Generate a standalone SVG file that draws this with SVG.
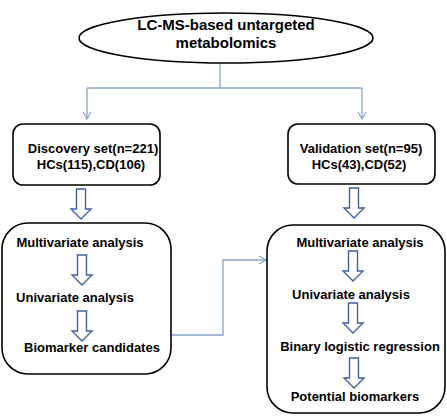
<svg xmlns="http://www.w3.org/2000/svg" xmlns:xlink="http://www.w3.org/1999/xlink" width="447" height="418" viewBox="0 0 447 418">
<style>
.box{fill:#fff;stroke:#000;stroke-width:1.6}
.t{font-family:"Liberation Sans",Arial,sans-serif;font-weight:bold;font-size:13px;fill:#000;text-anchor:middle}
.tt{font-size:15px}
.con{fill:none;stroke:#8aa5d2;stroke-width:1.3}
.ha{fill:#fff;stroke:#3f5f9f;stroke-width:1.4}
</style>
<defs>
<marker id="oa" markerWidth="10" markerHeight="10" refX="8" refY="5" orient="auto" markerUnits="userSpaceOnUse">
<path d="M1,1 L8,5 L1,9" fill="none" stroke="#8aa5d2" stroke-width="1.2"/>
</marker>
<path id="harrow" d="M-4.5,0 H4.5 V20 H10 L0,30 L-10,20 H-4.5 Z"/>
</defs>
<rect width="447" height="418" fill="#fff"/>
<g id="connectors">
<path class="con" d="M220,63 V88"/>
<path class="con" d="M87,88 H362"/>
<path class="con" d="M87,88 V119" marker-end="url(#oa)"/>
<path class="con" d="M362,88 V119" marker-end="url(#oa)"/>
<path class="con" d="M171,335 H223 V260 H266" marker-end="url(#oa)"/>
</g>
<g id="title">
<ellipse class="box" cx="226" cy="38" rx="147" ry="25"/>
<text class="t tt" x="226" y="30">LC-MS-based untargeted</text>
<text class="t tt" x="226" y="48">metabolomics</text>
</g>
<g id="discovery">
<rect class="box" x="13" y="124" width="147" height="61" rx="10"/>
<text class="t" x="93" y="153">Discovery set(n=221)</text>
<text class="t" x="91" y="169">HCs(115),CD(106)</text>
</g>
<g id="validation">
<rect class="box" x="288" y="124" width="147" height="60" rx="10"/>
<text class="t" x="361" y="153">Validation set(n=95)</text>
<text class="t" x="359" y="169">HCs(43),CD(52)</text>
</g>
<g id="discovery-analysis">
<rect class="box" x="2" y="223" width="169" height="151" rx="26"/>
<text class="t" x="80" y="247">Multivariate analysis</text>
<text class="t" x="75" y="302">Univariate analysis</text>
<text class="t" x="92" y="352">Biomarker candidates</text>
</g>
<g id="validation-analysis">
<rect class="box" x="267" y="225" width="178" height="188" rx="26"/>
<text class="t" x="360" y="247">Multivariate analysis</text>
<text class="t" x="351" y="299">Univariate analysis</text>
<text class="t" x="360" y="351">Binary logistic regression</text>
<text class="t" x="355" y="401">Potential biomarkers</text>
</g>
<g id="flow-arrows">
<use xlink:href="#harrow" class="ha" x="81" y="189"/>
<use xlink:href="#harrow" class="ha" x="354" y="188"/>
<use xlink:href="#harrow" class="ha" x="82" y="255"/>
<use xlink:href="#harrow" class="ha" x="82" y="311"/>
<use xlink:href="#harrow" class="ha" x="353" y="251"/>
<use xlink:href="#harrow" class="ha" x="353" y="303"/>
<use xlink:href="#harrow" class="ha" x="354" y="358"/>
</g>
</svg>
